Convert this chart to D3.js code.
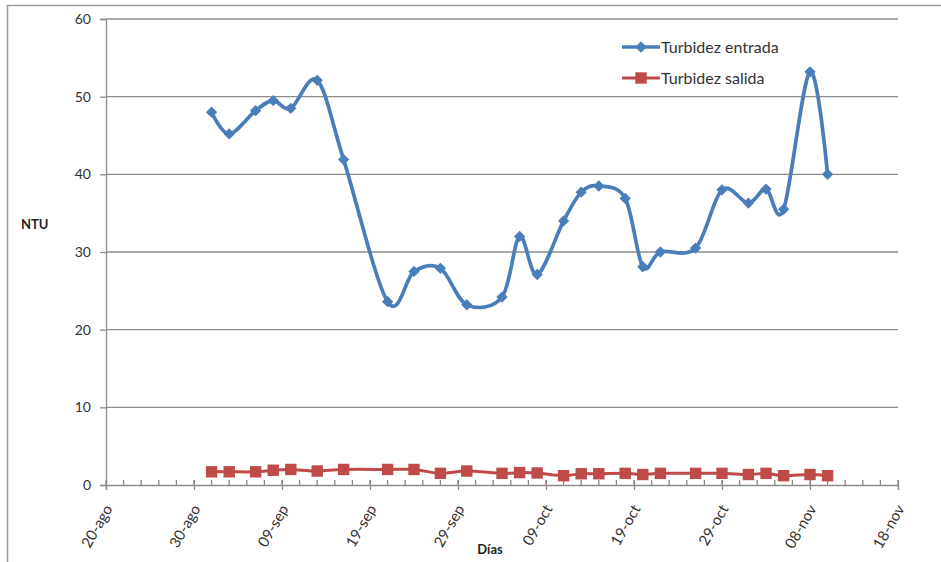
<!DOCTYPE html>
<html>
<head>
<meta charset="utf-8">
<script src="https://cdn.jsdelivr.net/npm/d3@7"></script>
<style>
  html, body { margin: 0; padding: 0; background: #fff; }
  svg { display: block; font-family: Lato, "Open Sans", sans-serif; }
</style>
</head>
<body>
<svg id="chart" width="941" height="562"></svg>
<script>
// Sampling dates (day-month) and turbidity readings in NTU
const fechas = [
  "2013-09-01", "2013-09-03", "2013-09-06", "2013-09-08", "2013-09-10",
  "2013-09-13", "2013-09-16", "2013-09-21", "2013-09-24", "2013-09-27",
  "2013-09-30", "2013-10-04", "2013-10-06", "2013-10-08", "2013-10-11",
  "2013-10-13", "2013-10-15", "2013-10-18", "2013-10-20", "2013-10-22",
  "2013-10-26", "2013-10-29", "2013-11-01", "2013-11-03", "2013-11-05",
  "2013-11-08", "2013-11-10"
];
const turbidezEntrada = [
  48.0, 45.2, 48.2, 49.5, 48.5, 52.1, 41.9, 23.6, 27.5, 27.9,
  23.2, 24.2, 32.0, 27.1, 34.0, 37.7, 38.5, 36.9, 28.1, 30.0,
  30.5, 38.0, 36.3, 38.1, 35.5, 53.2, 40.0
];
const turbidezSalida = [
  1.7, 1.7, 1.7, 1.9, 2.0, 1.8, 2.0, 2.0, 2.0, 1.5,
  1.8, 1.5, 1.6, 1.55, 1.2, 1.45, 1.45, 1.5, 1.35, 1.5,
  1.5, 1.5, 1.35, 1.5, 1.2, 1.35, 1.2
];
const serieNombres = ["Turbidez entrada", "Turbidez salida"];
const xTickFechas = [
  "2013-08-20", "2013-08-30", "2013-09-09", "2013-09-19", "2013-09-29",
  "2013-10-09", "2013-10-19", "2013-10-29", "2013-11-08", "2013-11-18"
];
const xTickEtiquetas = [
  "20-ago", "30-ago", "09-sep", "19-sep", "29-sep",
  "09-oct", "19-oct", "29-oct", "08-nov", "18-nov"
];
const yTicks = [0, 10, 20, 30, 40, 50, 60];

const parse = d3.timeParse("%Y-%m-%d");
const svg = d3.select("#chart");

const plotLeft = 106, plotRight = 898, plotTop = 19, plotBottom = 485;
const x = d3.scaleTime()
  .domain([parse(xTickFechas[0]), parse(xTickFechas[xTickFechas.length - 1])])
  .range([plotLeft, plotRight]);
const y = d3.scaleLinear().domain([0, 60]).range([plotBottom, plotTop]);

const gridColor = "#8c8c8c";
const textColor = "#333333";
const azul = "#4a7ebb";
const rojo = "#be4b48";

// Outer chart frame (top and left edges)
svg.append("path")
  .attr("d", "M7.5,562 V5.5 H941")
  .attr("fill", "none").attr("stroke", "#9a9a9a").attr("stroke-width", 1.5);

// Horizontal gridlines
svg.append("g").selectAll("line").data(yTicks.filter(d => d > 0)).join("line")
  .attr("x1", plotLeft).attr("x2", plotRight)
  .attr("y1", d => y(d)).attr("y2", d => y(d))
  .attr("stroke", gridColor).attr("stroke-width", 1.3);

// Y axis
const yAxis = d3.axisLeft(y).tickValues(yTicks).tickSize(6).tickPadding(9)
  .tickFormat(d3.format("d"));
const gy = svg.append("g").attr("transform", `translate(${plotLeft},0)`).call(yAxis);
gy.select(".domain").attr("stroke", gridColor).attr("stroke-width", 1.3);
gy.selectAll(".tick line").attr("stroke", gridColor).attr("stroke-width", 1.3);
gy.selectAll(".tick text").attr("fill", textColor)
  .style("font-size", "14px").style("font-family", "Lato, sans-serif");

// X axis: minor ticks every two days, major ticks every ten days
const minorDays = d3.timeDay.range(x.domain()[0], d3.timeDay.offset(x.domain()[1], 1), 2);
svg.append("g").selectAll("line").data(minorDays).join("line")
  .attr("x1", d => x(d)).attr("x2", d => x(d))
  .attr("y1", plotBottom - 5).attr("y2", plotBottom)
  .attr("stroke", gridColor).attr("stroke-width", 1.3);

const xAxis = d3.axisBottom(x)
  .tickValues(xTickFechas.map(parse))
  .tickSize(5)
  .tickFormat((d, i) => xTickEtiquetas[i]);
const gx = svg.append("g").attr("transform", `translate(0,${plotBottom})`).call(xAxis);
gx.select(".domain").attr("stroke", gridColor).attr("stroke-width", 1.3);
gx.selectAll(".tick line").attr("y1", -5).attr("stroke", gridColor).attr("stroke-width", 1.3);
gx.selectAll(".tick text")
  .attr("fill", textColor)
  .style("font-size", "15px").style("font-family", "Lato, sans-serif")
  .attr("text-anchor", "end")
  .attr("x", 0).attr("y", 0).attr("dy", "0.35em")
  .attr("transform", "translate(2,21) rotate(-60)");

// Axis titles
svg.append("text").attr("x", 21).attr("y", 229)
  .attr("fill", "#1f1f1f").style("font-size", "13px").style("font-weight", "bold")
  .text("NTU");
svg.append("text").attr("x", 490).attr("y", 554).attr("text-anchor", "middle")
  .attr("fill", "#1f1f1f").style("font-size", "13px").style("font-weight", "bold")
  .text("Días");

// Series
const curve = d3.curveCatmullRom.alpha(0);
const entrada = fechas.map((f, i) => ({ fecha: parse(f), valor: turbidezEntrada[i] }));
const salida = fechas.map((f, i) => ({ fecha: parse(f), valor: turbidezSalida[i] }));
const line = d3.line().x(d => x(d.fecha)).y(d => y(d.valor)).curve(curve);

// Diamond marker = square turned 45 degrees (equal width and height)
const diamond = d3.symbol().type(d3.symbolSquare).size(64);
const square = d3.symbol().type(d3.symbolSquare).size(130);

svg.append("path").datum(salida).attr("d", line)
  .attr("fill", "none").attr("stroke", rojo).attr("stroke-width", 3);
svg.append("g").selectAll("path").data(salida).join("path")
  .attr("transform", d => `translate(${x(d.fecha)},${y(d.valor)})`)
  .attr("d", square).attr("fill", rojo);

svg.append("path").datum(entrada).attr("d", line)
  .attr("fill", "none").attr("stroke", azul).attr("stroke-width", 3.7)
  .attr("stroke-linejoin", "round");
svg.append("g").selectAll("path").data(entrada).join("path")
  .attr("transform", d => `translate(${x(d.fecha)},${y(d.valor)}) rotate(45)`)
  .attr("d", diamond).attr("fill", azul);

// Legend
const legend = svg.append("g");
const items = [
  { nombre: serieNombres[0], color: azul, sym: diamond, rot: 45, w: 3.7 },
  { nombre: serieNombres[1], color: rojo, sym: square, rot: 0, w: 3 }
];
items.forEach((it, i) => {
  const ly = 47 + i * 31;
  legend.append("line").attr("x1", 622).attr("x2", 660).attr("y1", ly).attr("y2", ly)
    .attr("stroke", it.color).attr("stroke-width", it.w);
  legend.append("path").attr("transform", `translate(641,${ly}) rotate(${it.rot})`)
    .attr("d", it.sym).attr("fill", it.color);
  legend.append("text").attr("x", 661).attr("y", ly).attr("dy", "0.35em")
    .attr("fill", textColor).style("font-size", "16px")
    .text(it.nombre);
});
</script>
</body>
</html>
